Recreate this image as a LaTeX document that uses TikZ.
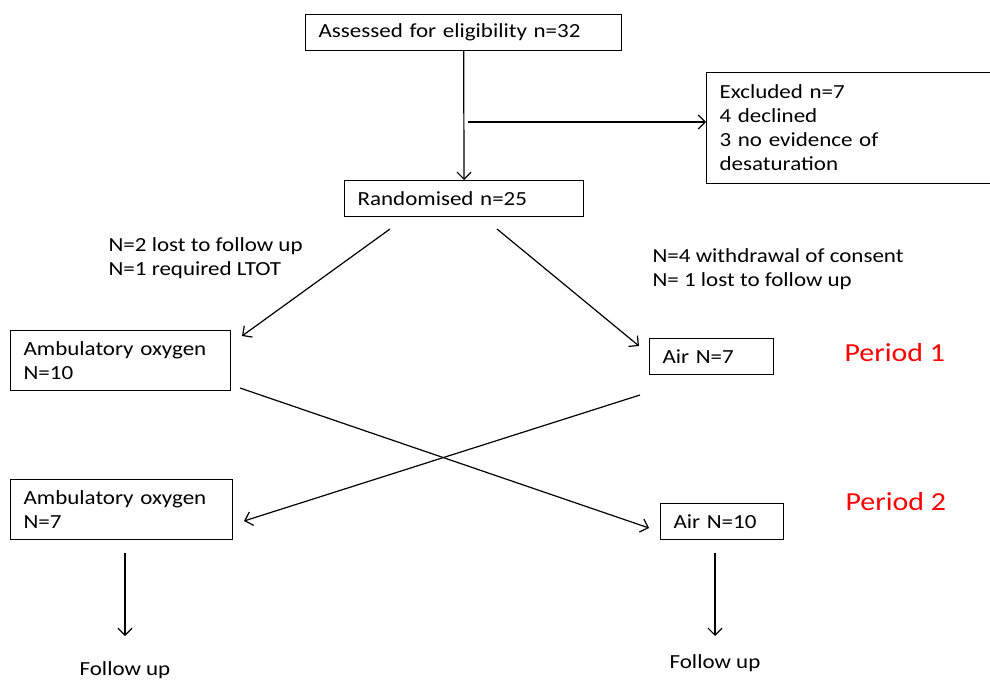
\documentclass[tikz,border=0pt]{standalone}
\usepackage{fontspec}
\setmainfont{Carlito}[FakeStretch=1.15]
\usetikzlibrary{arrows.meta, positioning}

\begin{document}
\begin{tikzpicture}[x=1pt, y=-1pt, line width=1.2pt,
  box/.style={draw, align=left, inner xsep=13pt, inner ysep=0pt, anchor=north west,
    font=\fontsize{20}{24}\selectfont},
  lbl/.style={align=left, inner sep=0pt, anchor=west, font=\fontsize{20}{24}\selectfont},
  period/.style={text=red, inner sep=0pt, anchor=west, font=\fontsize{26}{30}\selectfont},
  arr/.style={-{Straight Barb[length=7pt,width=14pt]}}]
\useasboundingbox (0,0) rectangle (990,680);

% boxes
\node[box, text width=290pt, minimum height=36pt] (elig) at (305,14) {Assessed for eligibility n=32};
\node[box, text width=272pt, minimum height=111pt] (excl) at (706,72)
  {Excluded n=7\\4 declined\\3 no evidence of\\desaturation};
\node[box, text width=213pt, minimum height=36pt] (rand) at (344,180) {Randomised n=25};
\node[box, text width=194pt, minimum height=60pt] (oxa) at (10,330) {Ambulatory oxygen\\N=10};
\node[box, text width=98pt, minimum height=36pt] (aira) at (649,338) {Air N=7};
\node[box, text width=196pt, minimum height=60pt] (oxb) at (10,479) {Ambulatory oxygen\\N=7};
\node[box, text width=97pt, minimum height=36pt] (airb) at (660,503) {Air N=10};

% labels
\node[lbl] (lossa) at (108,258) {N=2 lost to follow up\\N=1 required LTOT};
\node[lbl] (lossb) at (652,269) {N=4 withdrawal of consent\\N= 1 lost to follow up};
\node[period] (pa) at (844,353) {Period 1};
\node[period] (pb) at (845,502) {Period 2};
\node[lbl, anchor=center] (fua) at (125,670) {Follow up};
\node[lbl, anchor=center] (fub) at (715,663) {Follow up};

% free ends
\coordinate (split) at (468,122);
\coordinate (ra) at (390,229);
\coordinate (rb) at (497,229);
\coordinate (ina) at (242,336);
\coordinate (inb) at (639,346);
\coordinate (outa) at (240,388);
\coordinate (outb) at (640,395);
\coordinate (inc) at (244,521);
\coordinate (ind) at (649,528);
\coordinate (da) at (125,553);
\coordinate (dae) at (125,636);
\coordinate (db) at (715,553);
\coordinate (dbe) at (715,636);

% arrows
\draw[arr] (elig) -- (rand);
\draw[arr] (split) -- (split -| excl.west);
\draw[arr] (ra) -- (ina);
\draw[arr] (rb) -- (inb);
\draw[arr] (outa) -- (ind);
\draw[arr] (outb) -- (inc);
\draw[arr] (da) -- (dae);
\draw[arr] (db) -- (dbe);
\end{tikzpicture}
\end{document}
